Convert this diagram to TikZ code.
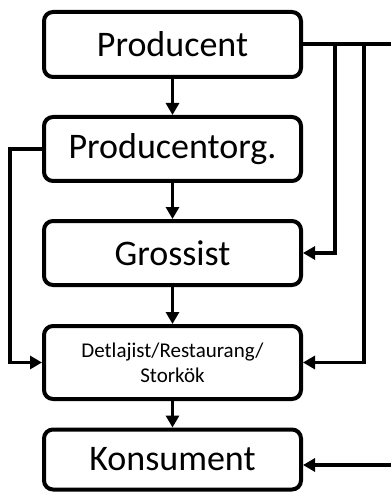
\documentclass[tikz,border=0pt]{standalone}
\usepackage{fontspec}
\setmainfont{Carlito}
\usetikzlibrary{arrows.meta}
\begin{document}
\begin{tikzpicture}[x=1pt,y=-1pt,
  box/.style={draw=black,line width=4pt,rounded corners=9pt,fill=white,minimum width=257pt,inner sep=0pt,align=center},
  conn/.style={line width=3.5pt,-{Triangle[length=12pt,width=13pt]}},
  plain/.style={line width=3.5pt}]
\useasboundingbox (0,0) rectangle (391,494);
\node[box,minimum height=65pt,font=\fontsize{36}{40}\selectfont] (P) at (172.5,44.5) {Producent};
\node[box,minimum height=64pt,font=\fontsize{36}{40}\selectfont] (PO) at (172.5,149) {Producentorg.};
\node[box,minimum height=64pt,font=\fontsize{36}{40}\selectfont] (G) at (172.5,253) {Grossist};
\node[box,minimum height=73pt,font=\fontsize{21}{25}\selectfont] (D) at (172.5,362.5) {Detlajist/Restaurang/\\Storkök};
\node[box,minimum height=60pt,font=\fontsize{36}{40}\selectfont] (K) at (172.5,459.5) {Konsument};
\coordinate (TR) at (391,44);
\coordinate (T1) at (335,44);
\coordinate (T2) at (364,44);
\coordinate (L) at (10,149);
\coordinate (KR) at (391,465);
\draw[conn] (P) -- (PO);
\draw[conn] (PO) -- (G);
\draw[conn] (G) -- (D);
\draw[conn] (D) -- (K);
\draw[plain] (P.east |- TR) -- (TR);
\draw[conn] (T1) |- (G.east);
\draw[conn] (T2) |- (D.east);
\draw[conn] (PO.west) -- (L) |- (D.west);
\draw[conn] (KR) -- (K.east |- KR);
\end{tikzpicture}
\end{document}
